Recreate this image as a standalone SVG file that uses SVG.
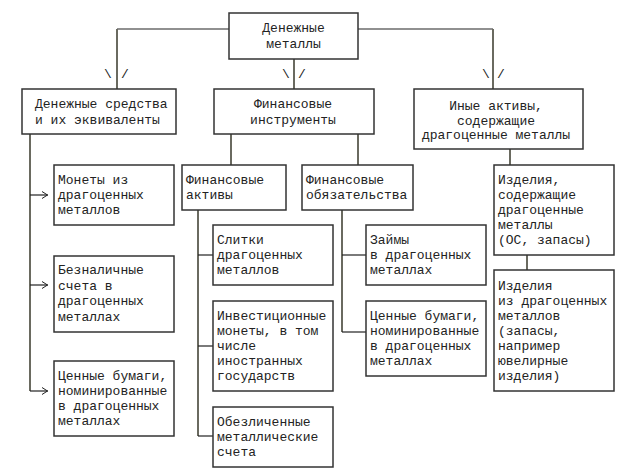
<svg xmlns="http://www.w3.org/2000/svg" width="632" height="475" viewBox="0 0 632 475">
<defs>
<style>
.box{fill:#fff;stroke:#333;stroke-width:1.5}
.t{font-family:"Liberation Mono","Courier New",monospace;font-size:13px;fill:#222}
.c{text-anchor:middle}
.v{fill:none;stroke:#6a6a60;stroke-width:2}
.h{fill:none;stroke:#222;stroke-width:1.2}
</style>
<marker id="ar" viewBox="0 0 6 8" refX="6" refY="4" markerWidth="6" markerHeight="8" markerUnits="userSpaceOnUse" orient="auto">
<polyline points="0,0.5 5.5,4 0,7.5" fill="none" stroke="#222" stroke-width="1"/>
</marker>
</defs>
<rect width="632" height="475" fill="#fff"/>
<g id="connectors">
<polyline class="h" points="117,29 229,29"/>
<polyline class="h" points="358,29 493,29"/>
<line class="v" x1="117" y1="29" x2="117" y2="89"/>
<line class="v" x1="294" y1="59" x2="294" y2="89"/>
<line class="v" x1="493" y1="29" x2="493" y2="89"/>
<text class="t c" x="108" y="78">\</text><text class="t c" x="125" y="78">/</text>
<text class="t c" x="286" y="78">\</text><text class="t c" x="302" y="78">/</text>
<text class="t c" x="486" y="78">\</text><text class="t c" x="501" y="78">/</text>
<line class="v" x1="30" y1="134" x2="30" y2="391"/>
<line class="h" x1="30" y1="195" x2="48" y2="195" marker-end="url(#ar)"/>
<line class="h" x1="30" y1="285" x2="48" y2="285" marker-end="url(#ar)"/>
<line class="h" x1="30" y1="391" x2="48" y2="391" marker-end="url(#ar)"/>
<line class="v" x1="231" y1="134" x2="231" y2="165"/>
<line class="v" x1="358" y1="134" x2="358" y2="165"/>
<line class="v" x1="198" y1="210" x2="198" y2="436"/>
<line class="h" x1="198" y1="255" x2="213" y2="255"/>
<line class="h" x1="198" y1="346" x2="213" y2="346"/>
<line class="h" x1="198" y1="436" x2="213" y2="436"/>
<line class="v" x1="342" y1="210" x2="342" y2="332"/>
<line class="h" x1="342" y1="255" x2="366" y2="255"/>
<line class="h" x1="342" y1="332" x2="366" y2="332"/>
<line class="v" x1="510" y1="149" x2="510" y2="165"/>
<line class="v" x1="527" y1="255" x2="527" y2="270"/>
</g>
<g id="n-root">
<rect class="box" x="229" y="13" width="129" height="46"/>
<text class="t c" x="293.5" y="32">Денежные</text>
<text class="t c" x="293.5" y="48">металлы</text>
</g>
<g id="n-cash">
<rect class="box" x="22" y="89" width="154" height="45"/>
<text class="t" x="35" y="108">Денежные средства</text>
<text class="t" x="35" y="124">и их эквиваленты</text>
</g>
<g id="n-fin">
<rect class="box" x="214" y="89" width="160" height="45"/>
<text class="t c" x="293" y="108">Финансовые</text>
<text class="t c" x="293" y="124">инструменты</text>
</g>
<g id="n-other">
<rect class="box" x="414" y="89" width="169" height="60"/>
<text class="t c" x="496" y="110">Иные активы,</text>
<text class="t c" x="496" y="124.5">содержащие</text>
<text class="t c" x="496" y="139">драгоценные металлы</text>
</g>
<g id="n-coins">
<rect class="box" x="54" y="165" width="120" height="60"/>
<text class="t" x="58" y="184">Монеты из</text>
<text class="t" x="58" y="199">драгоценных</text>
<text class="t" x="58" y="214">металлов</text>
</g>
<g id="n-noncash">
<rect class="box" x="54" y="256" width="120" height="76"/>
<text class="t" x="58" y="274">Безналичные</text>
<text class="t" x="58" y="289.5">счета в</text>
<text class="t" x="58" y="305">драгоценных</text>
<text class="t" x="58" y="320.5">металлах</text>
</g>
<g id="n-sec1">
<rect class="box" x="54" y="361" width="120" height="75"/>
<text class="t" x="58" y="380">Ценные бумаги,</text>
<text class="t" x="58" y="395">номинированные</text>
<text class="t" x="58" y="410">в драгоценных</text>
<text class="t" x="58" y="425">металлах</text>
</g>
<g id="n-finassets">
<rect class="box" x="182" y="165" width="104" height="45"/>
<text class="t" x="186" y="184">Финансовые</text>
<text class="t" x="186" y="199">активы</text>
</g>
<g id="n-finliab">
<rect class="box" x="302" y="165" width="111" height="45"/>
<text class="t" x="306" y="184">Финансовые</text>
<text class="t" x="306" y="199">обязательства</text>
</g>
<g id="n-bars">
<rect class="box" x="213" y="225" width="120" height="60"/>
<text class="t" x="217" y="244">Слитки</text>
<text class="t" x="217" y="259">драгоценных</text>
<text class="t" x="217" y="274">металлов</text>
</g>
<g id="n-invcoins">
<rect class="box" x="213" y="301" width="120" height="90"/>
<text class="t" x="217" y="320">Инвестиционные</text>
<text class="t" x="217" y="335">монеты, в том</text>
<text class="t" x="217" y="350">числе</text>
<text class="t" x="217" y="365">иностранных</text>
<text class="t" x="217" y="380">государств</text>
</g>
<g id="n-unalloc">
<rect class="box" x="213" y="407" width="120" height="60"/>
<text class="t" x="217" y="426">Обезличенные</text>
<text class="t" x="217" y="441">металлические</text>
<text class="t" x="217" y="456">счета</text>
</g>
<g id="n-loans">
<rect class="box" x="366" y="225" width="120" height="60"/>
<text class="t" x="370" y="244">Займы</text>
<text class="t" x="370" y="259">в драгоценных</text>
<text class="t" x="370" y="274">металлах</text>
</g>
<g id="n-sec2">
<rect class="box" x="366" y="301" width="120" height="75"/>
<text class="t" x="370" y="320">Ценные бумаги,</text>
<text class="t" x="370" y="335">номинированные</text>
<text class="t" x="370" y="350">в драгоценных</text>
<text class="t" x="370" y="365">металлах</text>
</g>
<g id="n-items1">
<rect class="box" x="494" y="165" width="120" height="90"/>
<text class="t" x="498" y="184">Изделия,</text>
<text class="t" x="498" y="199">содержащие</text>
<text class="t" x="498" y="214">драгоценные</text>
<text class="t" x="498" y="229">металлы</text>
<text class="t" x="498" y="244">(ОС, запасы)</text>
</g>
<g id="n-items2">
<rect class="box" x="494" y="270" width="120" height="121"/>
<text class="t" x="498" y="290">Изделия</text>
<text class="t" x="498" y="305">из драгоценных</text>
<text class="t" x="498" y="320">металлов</text>
<text class="t" x="498" y="335">(запасы,</text>
<text class="t" x="498" y="350">например</text>
<text class="t" x="498" y="365">ювелирные</text>
<text class="t" x="498" y="380">изделия)</text>
</g>
</svg>
